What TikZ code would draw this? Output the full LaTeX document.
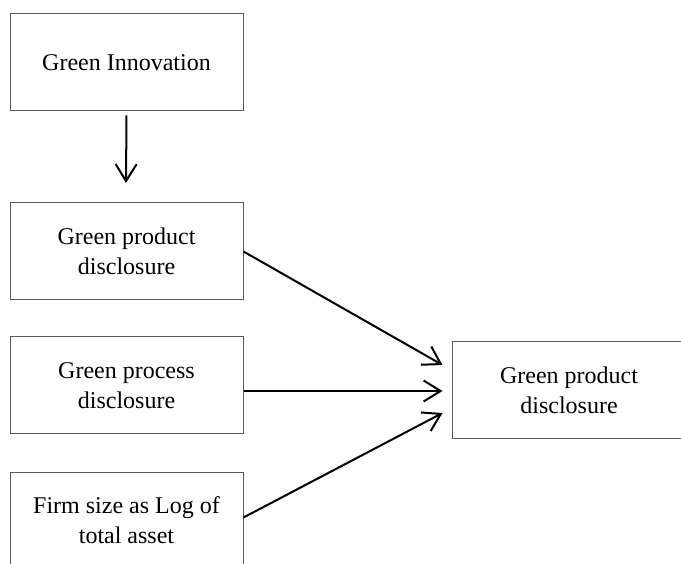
\documentclass[tikz,border=0pt]{standalone}
\usepackage{fontspec}
\setmainfont{Liberation Serif}
\usetikzlibrary{arrows.meta,calc}
\begin{document}
\begin{tikzpicture}[x=1pt,y=-1pt,
  box/.style={draw=black!65, line width=1pt, minimum width=233pt, minimum height=97pt,
    inner sep=0pt, align=center, font=\fontsize{24}{30}\selectfont},
  conn/.style={line width=2pt, -{Straight Barb[length=17pt,width=21pt,line width=2pt]}}]
\clip (0,0) rectangle (681,564);
\fill[white] (0,0) rectangle (681,564);
\node[box] (b1) at (126.5,62.5) {Green Innovation};
\node[box] (b2) at (126.5,251.5) {Green product\\disclosure};
\node[box] (b3) at (126.5,385.5) {Green process\\disclosure};
\node[box] (b4) at (126.5,520.5) {Firm size as Log of\\total asset};
\node[box, minimum width=234pt] (b5) at (569,390.5) {Green product\\disclosure};
\coordinate (d1) at (126,183);
\coordinate (t1) at ($(b5.west)+(-9,-25.5)$);
\coordinate (t2) at ($(b5.west)+(-9,0.5)$);
\coordinate (t3) at ($(b5.west)+(-9,22.5)$);
\draw[conn] ($(b1.south)+(0,4)$) -- (d1);
\draw[conn] (b2.east) -- (t1);
\draw[conn] (b3.east |- t2) -- (t2);
\draw[conn] ($(b4.east)+(0,-3)$) -- (t3);
\end{tikzpicture}
\end{document}
